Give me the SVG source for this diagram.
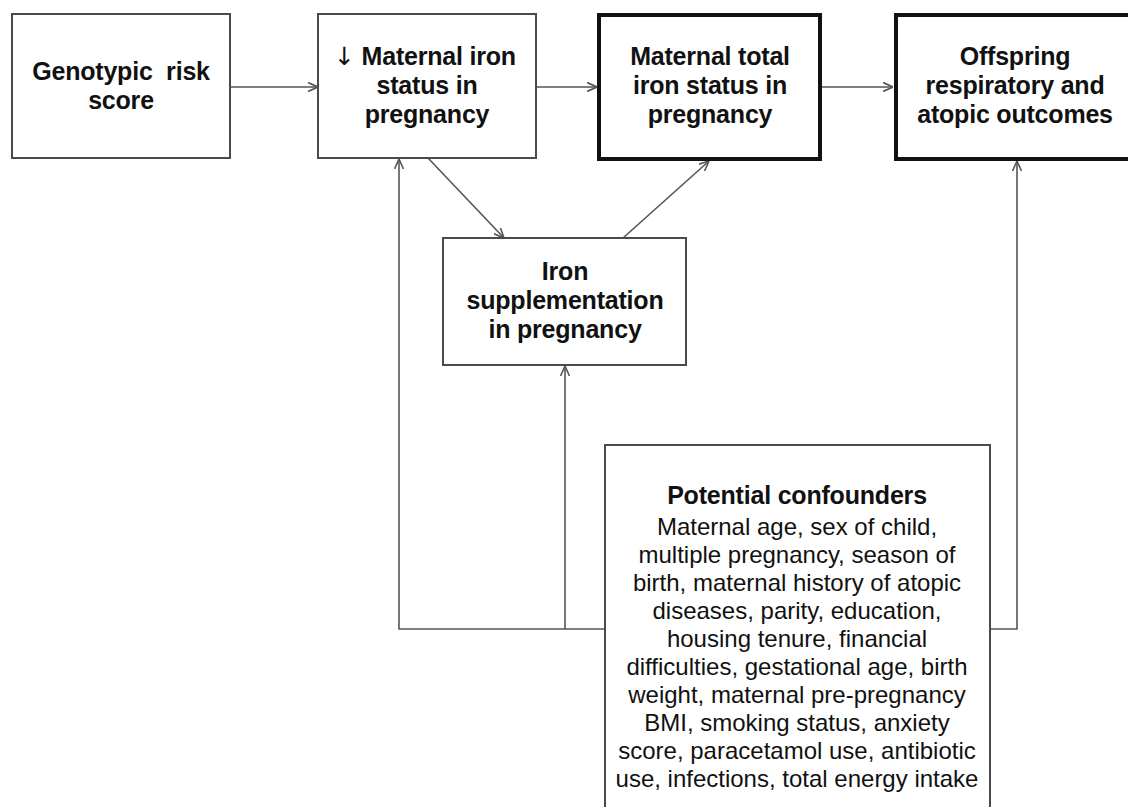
<svg xmlns="http://www.w3.org/2000/svg" width="1128" height="807" viewBox="0 0 1128 807">
<defs>
<marker id="arr" viewBox="0 0 10 10" refX="10" refY="5" markerWidth="10" markerHeight="10" markerUnits="userSpaceOnUse" orient="auto">
<path d="M0,0.5 L10,5 L0,9.5" fill="none" stroke="#555" stroke-width="1.6"/>
</marker>
</defs>
<style>
.box{fill:#fff;stroke:#4a4a4a;stroke-width:2}
.thick{fill:#fff;stroke:#111;stroke-width:4}
.b{font-family:"Liberation Sans",Arial,sans-serif;font-weight:bold;font-size:25px;fill:#111;text-anchor:middle;letter-spacing:-0.2px}
.r{font-family:"Liberation Sans",Arial,sans-serif;font-size:24px;fill:#111;text-anchor:middle;letter-spacing:0px}
.ar{font-family:"DejaVu Sans",sans-serif;font-weight:normal;fill:#111}
.c{fill:none;stroke:#555;stroke-width:1.6}
</style>
<rect width="1128" height="807" fill="#fff"/>
<g id="connectors">
<line class="c" x1="230" y1="87" x2="318" y2="87" marker-end="url(#arr)"/>
<line class="c" x1="536" y1="87" x2="597" y2="87" marker-end="url(#arr)"/>
<line class="c" x1="822" y1="87" x2="893" y2="87" marker-end="url(#arr)"/>
<line class="c" x1="428" y1="158" x2="504" y2="238" marker-end="url(#arr)"/>
<line class="c" x1="623" y1="238" x2="709" y2="161" marker-end="url(#arr)"/>
<polyline class="c" points="605,629 399,629 399,159" marker-end="url(#arr)"/>
<line class="c" x1="565" y1="629" x2="565" y2="366" marker-end="url(#arr)"/>
<polyline class="c" points="990,629 1017,629 1017,161" marker-end="url(#arr)"/>
</g>
<g id="genotypic">
<rect class="box" x="12" y="14" width="218" height="144"/>
<text class="b" x="121" y="80">Genotypic&#160; risk</text>
<text class="b" x="121" y="109">score</text>
</g>
<g id="maternal-iron">
<rect class="box" x="318" y="14" width="218" height="144"/>
<text class="b" x="425" y="65"><tspan class="ar">↓</tspan> Maternal iron</text>
<text class="b" x="427" y="94">status in</text>
<text class="b" x="427" y="123">pregnancy</text>
</g>
<g id="maternal-total">
<rect class="thick" x="599" y="15" width="221" height="144"/>
<text class="b" x="710" y="65">Maternal total</text>
<text class="b" x="710" y="94">iron status in</text>
<text class="b" x="710" y="123">pregnancy</text>
</g>
<g id="offspring">
<rect class="thick" x="896" y="15" width="240" height="144"/>
<text class="b" x="1015" y="65">Offspring</text>
<text class="b" x="1015" y="94">respiratory and</text>
<text class="b" x="1015" y="123">atopic outcomes</text>
</g>
<g id="iron-supplementation">
<rect class="box" x="443" y="238" width="243" height="127"/>
<text class="b" x="565" y="280">Iron</text>
<text class="b" x="565" y="309">supplementation</text>
<text class="b" x="565" y="338">in pregnancy</text>
</g>
<g id="confounders">
<rect class="box" x="605" y="445" width="385" height="380"/>
<text class="b" x="797" y="504">Potential confounders</text>
<text class="r" x="797" y="535">Maternal age, sex of child,</text>
<text class="r" x="797" y="563">multiple pregnancy, season of</text>
<text class="r" x="797" y="591">birth, maternal history of atopic</text>
<text class="r" x="797" y="619">diseases, parity, education,</text>
<text class="r" x="797" y="647">housing tenure, financial</text>
<text class="r" x="797" y="675">difficulties, gestational age, birth</text>
<text class="r" x="797" y="703">weight, maternal pre-pregnancy</text>
<text class="r" x="797" y="731">BMI, smoking status, anxiety</text>
<text class="r" x="797" y="759">score, paracetamol use, antibiotic</text>
<text class="r" x="797" y="787">use, infections, total energy intake</text>
</g>
</svg>
